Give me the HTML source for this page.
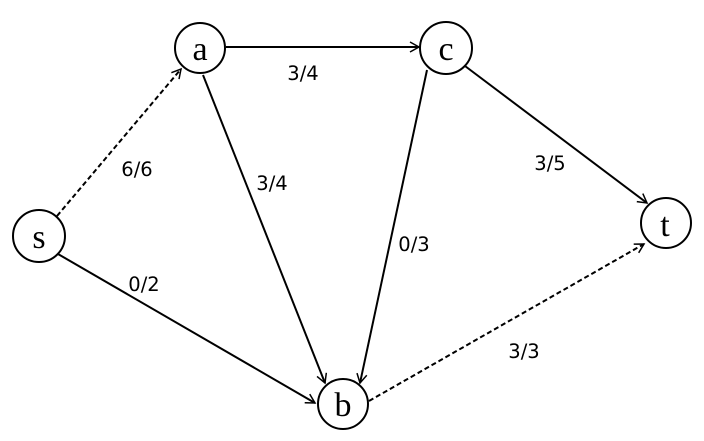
<!DOCTYPE html>
<html><head><meta charset="utf-8"><style>
html,body{margin:0;padding:0;background:#fff;}
svg{display:block;}
.n{font-family:"Liberation Serif",serif;font-size:34px;text-anchor:middle;}
.l{font-family:"DejaVu Sans","Liberation Sans",sans-serif;font-size:19.5px;text-anchor:middle;}
</style></head><body>
<svg width="704" height="441" viewBox="0 0 704 441" xmlns="http://www.w3.org/2000/svg">
<defs><marker id="ar" markerWidth="12" markerHeight="12" refX="10" refY="6" orient="auto" markerUnits="userSpaceOnUse">
<path d="M1,1 L10,6 L1,11" fill="none" stroke="#000" stroke-width="1.5"/></marker></defs>
<g stroke="#000" stroke-width="2" fill="none">
<line x1="57" y1="216" x2="181" y2="69" stroke-dasharray="5,3" marker-end="url(#ar)"/>
<line x1="226" y1="47" x2="419" y2="47" marker-end="url(#ar)"/>
<line x1="203" y1="75" x2="325" y2="383" marker-end="url(#ar)"/>
<line x1="427" y1="70" x2="360" y2="383" marker-end="url(#ar)"/>
<line x1="465" y1="66" x2="647" y2="203" marker-end="url(#ar)"/>
<line x1="58" y1="254" x2="315" y2="403" marker-end="url(#ar)"/>
<line x1="369" y1="401" x2="644" y2="244" stroke-dasharray="5,3" marker-end="url(#ar)"/>
<circle cx="200" cy="48" r="25"/>
<circle cx="446" cy="48" r="26"/>
<circle cx="39" cy="236" r="26"/>
<circle cx="666" cy="223" r="25"/>
<circle cx="343" cy="404" r="25"/>
</g>
<text class="n" x="200" y="60">a</text>
<text class="n" x="446" y="60">c</text>
<text class="n" x="39" y="248">s</text>
<text class="n" x="665" y="236">t</text>
<text class="n" x="343" y="416">b</text>
<text class="l" x="303" y="80">3/4</text>
<text class="l" x="137" y="176">6/6</text>
<text class="l" x="272" y="190">3/4</text>
<text class="l" x="414" y="251">0/3</text>
<text class="l" x="550" y="170">3/5</text>
<text class="l" x="144" y="291">0/2</text>
<text class="l" x="524" y="358">3/3</text>
</svg>
</body></html>
